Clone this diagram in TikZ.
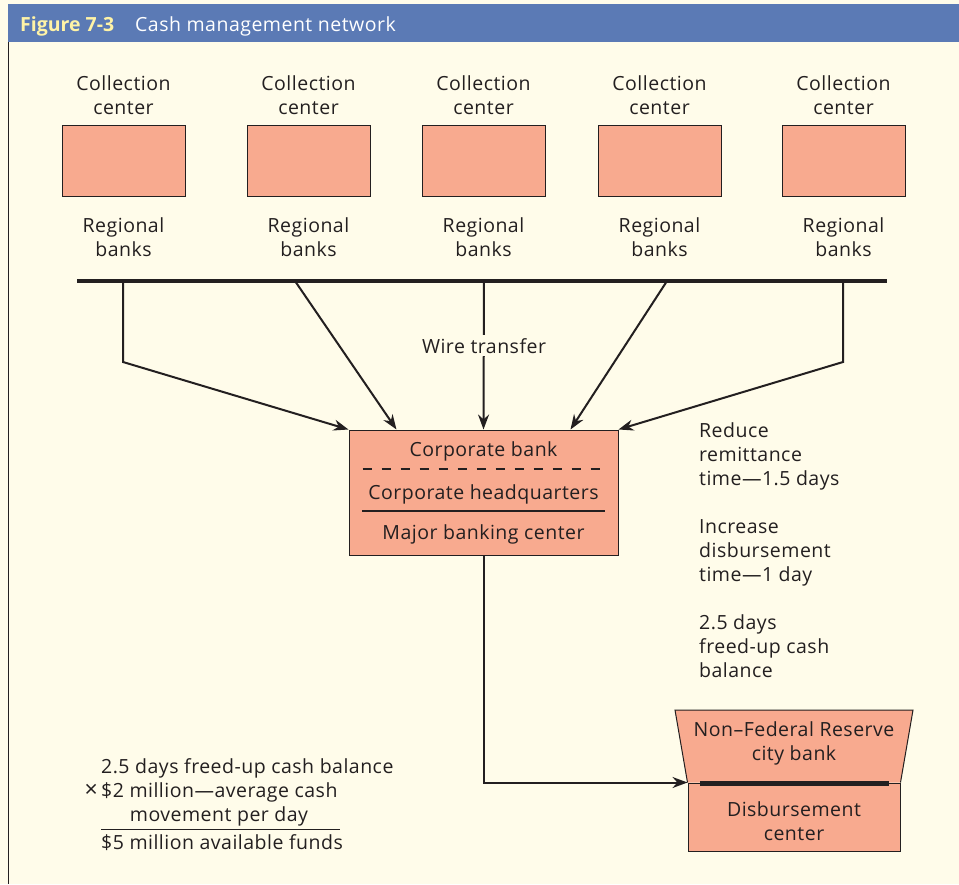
\documentclass[tikz,border=0pt]{standalone}
\usepackage{fontspec}
\setmainfont[LetterSpace=2.5]{Open Sans}
\usetikzlibrary{arrows.meta}
\definecolor{cream}{HTML}{FFFCEA}
\definecolor{hdr}{HTML}{5B7AB5}
\definecolor{salmon}{HTML}{F8AA8F}
\definecolor{ink}{HTML}{231F20}
\definecolor{figyellow}{HTML}{FFF3A6}
\begin{document}
\begin{tikzpicture}[x=1pt,y=-1pt,
  box/.style={draw=ink, line width=1pt, fill=salmon, minimum width=123pt, minimum height=71pt, inner sep=0pt},
  lbl/.style={text=ink, font=\fontsize{19.5}{24}\selectfont, align=center, inner sep=0pt},
  lbll/.style={lbl, align=left},
  conn/.style={draw=ink, line width=2pt, -{Stealth[length=15pt,width=11pt]}, line join=miter}]
\useasboundingbox (0,0) rectangle (959,884);
\fill[cream] (0,0) rectangle (959,884);
\fill[hdr] (8,4) rectangle (959,42);
\draw[ink, line width=1.2pt] (8.6,42) -- (8.6,884);
\node[anchor=base west, inner sep=0pt, font=\fontsize{19.5}{19}\selectfont\bfseries\addfontfeatures{LetterSpace=0}, text=figyellow] (fig) at (20,31) {Figure 7-3};
\node[anchor=base west, inner sep=0pt, font=\fontsize{19.5}{19}\selectfont, text=white] (title) at (135,31) {Cash management network};
\foreach \i/\x in {1/123.5,2/308.5,3/483.5,4/659.5,5/843.5}{
  \node[box] (c\i) at (\x,160.5) {};
  \node[lbl, anchor=base] (cl\i) at (\x,114) {Collection\\center};
  \node[lbl, anchor=base] (rb\i) at (\x,256) {Regional\\banks};
}
\coordinate (busL) at (77,281);
\coordinate (busR) at (887,281);
\coordinate (t1) at (123,281);
\coordinate (t2) at (295,281);
\coordinate (t3) at (484,281);
\coordinate (t4) at (667,281);
\coordinate (t5) at (843,281);
\coordinate (k1) at (123,362);
\coordinate (k5) at (843,362);
\node[draw=ink, line width=1pt, fill=salmon, minimum width=269pt, minimum height=125pt, inner sep=0pt] (corp) at (483.5,492.5) {};
\draw[conn] (t1) -- (k1) -- (corp.north west);
\draw[conn] (t2) -- ([xshift=48pt]corp.north west);
\draw[conn] (t3) -- (corp.north);
\draw[conn] (t4) -- ([xshift=-48pt]corp.north east);
\draw[conn] (t5) -- (k5) -- (corp.north east);
\draw[ink, line width=4pt] (busL) -- (busR);
\node[lbl, anchor=base, fill=cream, inner sep=3pt] (wire) at (484,353) {Wire transfer};
\node[lbl, anchor=base] (cb) at (483.5,456) {Corporate bank};
\draw[ink, line width=2.5pt, dash pattern=on 9.5pt off 9.5pt] (362.5,469) -- (605,469);
\node[lbl, anchor=base] (chq) at (483.5,499) {Corporate headquarters};
\draw[ink, line width=2.5pt] (362,511) -- (605,511);
\node[lbl, anchor=base] (mbc) at (483.5,539) {Major banking center};
\node[lbll, anchor=base west] (r1) at (699,485) {Reduce\\remittance\\time—1.5 days};
\node[lbll, anchor=base west] (r2) at (699,581) {Increase\\disbursement\\time—1 day};
\node[lbll, anchor=base west] (r3) at (699,677) {2.5 days\\freed-up cash\\balance};
% disbursement shape
\coordinate (dTL) at (675,710);
\coordinate (dTR) at (913,710);
\node[draw=ink, line width=1pt, fill=salmon, minimum width=212pt, minimum height=68pt, inner sep=0pt] (disb) at (794,817) {};
\filldraw[draw=ink, line width=1pt, fill=salmon] (disb.north west) -- (dTL) -- (dTR) -- (disb.north east);
\draw[ink, line width=5pt] (700,783) -- (889,783);
\node[lbl, anchor=base] (nfr) at (794,760) {Non–Federal Reserve\\city bank};
\node[lbl, anchor=base] (dc) at (794,840) {Disbursement\\center};
\draw[conn] (corp.south) |- (disb.north west);
% calculation
\node[lbl, anchor=base west] (calc1) at (101,773) {2.5 days freed-up cash balance};
\node[lbl, anchor=base east, font=\fontsize{23}{24}\selectfont] (times) at (98,797) {×};
\node[lbl, anchor=base west] (calc2) at (101,797) {\$2 million—average cash};
\node[lbl, anchor=base] (calc3) at (219,821) {movement per day};
\draw[ink, line width=1pt] (101,829) -- (340,829);
\node[lbl, anchor=base west] (calc4) at (101,849) {\$5 million available funds};
\end{tikzpicture}
\end{document}
